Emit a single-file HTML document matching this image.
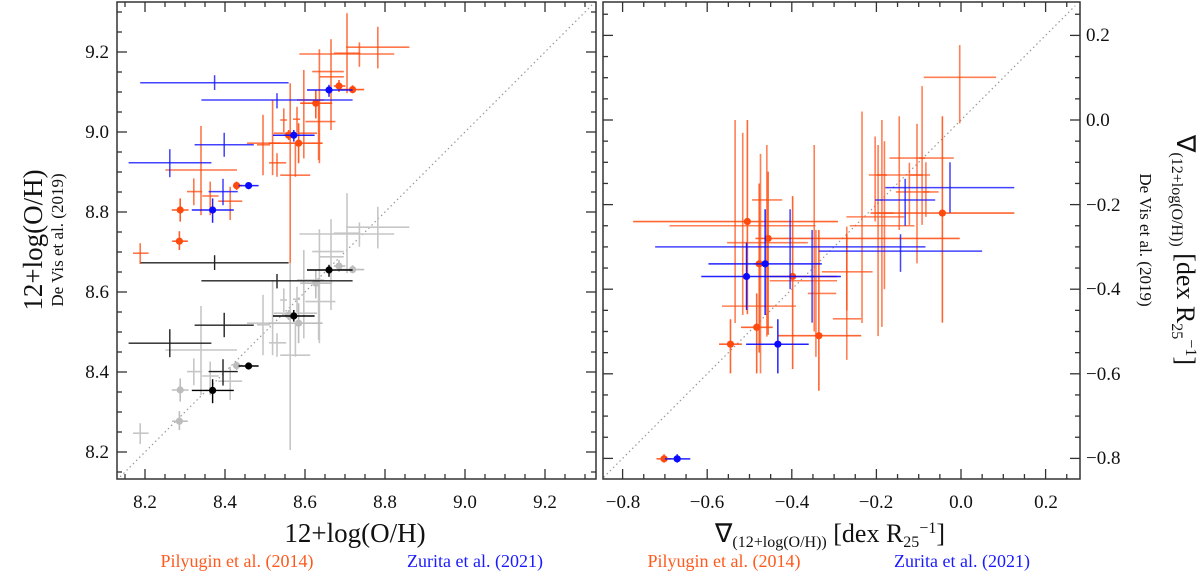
<!DOCTYPE html>
<html><head><meta charset="utf-8">
<style>
html,body{margin:0;padding:0;background:#fff;}
svg{display:block;}
text{font-family:"Liberation Serif",serif;}
</style></head>
<body>
<svg id="chart" width="1200" height="573" viewBox="0 0 1200 573" xmlns="http://www.w3.org/2000/svg"></svg>
<script>
// ---------- data: [x, y, xlo, xhi, ylo, yhi] ----------
const leftGrayCross = [
[8.782,8.762,8.703,8.861,8.709,8.813],[8.736,8.745,8.586,8.823,8.713,8.774],[8.705,8.747,8.672,8.738,8.647,8.847],
[8.636,8.701,8.618,8.697,8.472,8.757],[8.665,8.688,8.637,8.697,8.555,8.782],[8.597,8.63,8.58,8.647,8.484,8.705],
[8.634,8.576,8.601,8.676,8.48,8.63],[8.519,8.522,8.455,8.538,8.442,8.63],[8.495,8.518,8.48,8.513,8.442,8.593],
[8.547,8.58,8.538,8.555,8.55,8.609],[8.58,8.582,8.57,8.588,8.55,8.613],[8.53,8.473,8.51,8.553,8.438,8.497],
[8.563,8.547,8.522,8.63,8.205,8.672],[8.576,8.442,8.538,8.613,8.438,8.522],[8.34,8.455,8.251,8.43,8.342,8.565],
[8.322,8.401,8.305,8.343,8.367,8.434],[8.363,8.39,8.343,8.384,8.342,8.426],[8.413,8.377,8.383,8.443,8.33,8.413],
[8.188,8.247,8.17,8.209,8.22,8.272]];
const leftGrayDot = [
[8.288,8.355,8.267,8.309,8.326,8.384],[8.286,8.277,8.268,8.307,8.255,8.302],[8.429,8.416,8.42,8.443,8.405,8.426],
[8.627,8.622,8.588,8.668,8.584,8.655],[8.584,8.522,8.509,8.644,8.472,8.572],[8.685,8.665,8.672,8.701,8.65,8.68],
[8.719,8.656,8.688,8.748,8.647,8.667],[8.559,8.542,8.547,8.572,8.53,8.555]];
const leftBlackCross = [
[8.374,8.673,8.188,8.559,8.655,8.692],[8.53,8.628,8.341,8.719,8.609,8.645],[8.398,8.517,8.324,8.472,8.487,8.548],
[8.262,8.472,8.159,8.366,8.437,8.507],[8.395,8.401,8.359,8.432,8.366,8.432]];
const leftBlackDot = [
[8.66,8.655,8.605,8.719,8.638,8.668],[8.572,8.54,8.52,8.624,8.526,8.555],[8.459,8.415,8.434,8.484,8.407,8.423],
[8.369,8.354,8.317,8.422,8.322,8.382]];
const leftOrangeCross = [
[8.782,9.212,8.703,8.861,9.159,9.263],[8.736,9.195,8.586,8.823,9.163,9.224],[8.705,9.197,8.672,8.738,9.097,9.297],
[8.636,9.151,8.618,8.697,8.922,9.207],[8.665,9.138,8.637,8.697,9.005,9.232],[8.597,9.08,8.58,8.647,8.934,9.155],
[8.634,9.026,8.601,8.676,8.93,9.08],[8.519,8.972,8.455,8.538,8.892,9.08],[8.495,8.968,8.48,8.513,8.892,9.043],
[8.547,9.03,8.538,8.555,9.0,9.059],[8.58,9.032,8.57,8.588,9.0,9.063],[8.53,8.923,8.51,8.553,8.888,8.947],
[8.563,8.997,8.522,8.63,8.672,9.122],[8.576,8.892,8.538,8.613,8.888,8.972],[8.34,8.905,8.251,8.43,8.792,9.015],
[8.322,8.851,8.305,8.343,8.817,8.884],[8.363,8.84,8.343,8.384,8.792,8.876],[8.413,8.827,8.383,8.443,8.78,8.863],
[8.188,8.697,8.17,8.209,8.67,8.722]];
const leftOrangeDot = [
[8.288,8.805,8.267,8.309,8.776,8.834],[8.286,8.727,8.268,8.307,8.705,8.752],[8.429,8.866,8.42,8.443,8.855,8.876],
[8.627,9.072,8.588,8.668,9.034,9.105],[8.584,8.972,8.509,8.644,8.922,9.022],[8.685,9.115,8.672,8.701,9.1,9.13],
[8.719,9.106,8.688,8.748,9.097,9.117],[8.559,8.992,8.547,8.572,8.98,9.005]];
const leftBlueCross = [
[8.374,9.123,8.188,8.559,9.105,9.142],[8.53,9.08,8.341,8.719,9.059,9.097],[8.398,8.968,8.324,8.472,8.938,8.998],
[8.262,8.923,8.159,8.366,8.887,8.957],[8.395,8.851,8.359,8.432,8.817,8.883]];
const leftBlueDot = [
[8.66,9.105,8.605,8.719,9.088,9.118],[8.572,8.992,8.52,8.624,8.976,9.005],[8.459,8.866,8.434,8.484,8.857,8.873],
[8.369,8.805,8.317,8.422,8.773,8.834]];
const rightOrangeCross = [
[-0.003,0.101,-0.088,0.083,-0.008,0.177],[-0.534,-0.44,-0.565,-0.39,-0.48,0.0],[-0.516,-0.25,-0.689,-0.344,-0.461,-0.03],
[-0.474,-0.29,-0.553,-0.362,-0.599,-0.08],[-0.459,-0.189,-0.494,-0.423,-0.512,-0.059],[-0.347,-0.41,-0.362,-0.295,-0.5,-0.059],
[-0.343,-0.38,-0.452,-0.293,-0.56,-0.26],[-0.27,-0.47,-0.303,-0.236,-0.567,-0.252],[-0.27,-0.359,-0.329,-0.209,-0.45,-0.27],
[-0.234,-0.229,-0.271,-0.134,-0.48,0.02],[-0.203,-0.13,-0.218,-0.073,-0.24,-0.039],[-0.196,-0.25,-0.263,-0.11,-0.511,-0.059],
[-0.187,-0.13,-0.2,-0.175,-0.489,0.0],[-0.181,-0.22,-0.2,-0.16,-0.4,-0.05],[-0.146,-0.09,-0.169,-0.017,-0.26,0.009],
[-0.122,-0.17,-0.154,-0.053,-0.248,-0.101],[-0.104,-0.13,-0.12,-0.09,-0.339,-0.009],[-0.092,-0.09,-0.1,-0.085,-0.248,0.08],
[-0.083,-0.17,-0.09,-0.075,-0.229,-0.1]];
const rightOrangeDot = [
[-0.044,-0.22,-0.214,0.126,-0.479,0.009],[-0.505,-0.24,-0.775,-0.291,-0.459,0.0],[-0.456,-0.28,-0.486,-0.003,-0.508,-0.122],
[-0.477,-0.34,-0.49,-0.46,-0.55,-0.15],[-0.398,-0.37,-0.452,-0.293,-0.589,-0.18],[-0.483,-0.49,-0.52,-0.445,-0.599,-0.41],
[-0.545,-0.53,-0.572,-0.518,-0.599,-0.471],[-0.336,-0.51,-0.433,-0.236,-0.64,-0.26],[-0.702,-0.801,-0.72,-0.685,-0.81,-0.79]];
const rightBlueCross = [
[-0.404,-0.3,-0.723,-0.084,-0.4,-0.211],[-0.143,-0.31,-0.336,0.05,-0.359,-0.27],[-0.352,-0.37,-0.357,-0.347,-0.479,-0.26],
[-0.132,-0.189,-0.203,-0.061,-0.25,-0.139],[-0.026,-0.16,-0.179,0.126,-0.219,-0.1]];
const rightBlueDot = [
[-0.463,-0.34,-0.597,-0.329,-0.461,-0.211],[-0.507,-0.37,-0.614,-0.284,-0.449,-0.29],[-0.433,-0.53,-0.508,-0.36,-0.599,-0.471],
[-0.671,-0.801,-0.7,-0.64,-0.81,-0.79]];

const NS="http://www.w3.org/2000/svg";
const svg=document.getElementById('chart');
function el(tag,attrs,parent){const e=document.createElementNS(NS,tag);for(const k in attrs)e.setAttribute(k,attrs[k]);(parent||svg).appendChild(e);return e;}
const L={x0:117,x1:596,y0:2,y1:479, lx:(v)=>145+(v-8.2)*400, ly:(v)=>452-(v-8.2)*400, vmin:8.13, vmax:9.33};
const R={x0:603,x1:1080,y0:2,y1:479, lx:(v)=>961+v*423, ly:(v)=>120-v*423, vmin:-0.86, vmax:0.27};

function clipFor(P,id){const cp=el('clipPath',{id:id});el('rect',{x:P.x0,y:P.y0,width:P.x1-P.x0,height:P.y1-P.y0},cp);return 'url(#'+id+')';}
const cl=clipFor(L,'cl'), cr=clipFor(R,'cr');

function drawSeries(P,data,color,dot,name,clip,w,op){
  const g=el('g',{'clip-path':clip});
  
  
  data.forEach(d=>{
    const cx=P.lx(d[0]), cy=P.ly(d[1]);
    const h=el('line',{x1:P.lx(d[2]),x2:P.lx(d[3]),y1:cy,y2:cy,stroke:color,'stroke-width':w,'stroke-opacity':op},g);
    
    
    const v=el('line',{x1:cx,x2:cx,y1:P.ly(d[4]),y2:P.ly(d[5]),stroke:color,'stroke-width':w,'stroke-opacity':op},g);
    
    
    if(dot){const c=el('circle',{cx:cx,cy:cy,r:3.6,fill:color},g);
      
      }
  });
}
function diag(P,clip){const l=el('line',{x1:P.lx(P.vmin),y1:P.ly(P.vmin),x2:P.lx(P.vmax),y2:P.ly(P.vmax),stroke:'#999','stroke-width':1.2,'stroke-dasharray':'1.5,3','clip-path':clip});
  
  }

diag(L,cl); diag(R,cr);
drawSeries(L,leftGrayCross,'#c6c6c6',false,'devis-recal-cross',cl,1.6,1);
drawSeries(L,leftGrayDot,'#bdbdbd',true,'devis-recal-dot',cl,1.6,1);
drawSeries(L,leftBlackCross,'#222',false,'zurita-recal-cross',cl,1.4,1);
drawSeries(L,leftBlackDot,'#000',true,'zurita-recal-dot',cl,1.4,1);
drawSeries(L,leftOrangeCross,'#ff4a0e',false,'pilyugin-cross',cl,1.6,0.75);
drawSeries(L,leftOrangeDot,'#ff4a0e',true,'pilyugin-dot',cl,1.6,0.9);
drawSeries(L,leftBlueCross,'#1414ff',false,'zurita-cross',cl,1.5,0.8);
drawSeries(L,leftBlueDot,'#0a0aff',true,'zurita-dot',cl,1.5,0.9);
drawSeries(R,rightOrangeCross,'#ff4a0e',false,'pilyugin-gradient-cross',cr,1.6,0.7);
drawSeries(R,rightOrangeDot,'#ff4a0e',true,'pilyugin-gradient-dot',cr,1.6,0.85);
drawSeries(R,rightBlueCross,'#1414ff',false,'zurita-gradient-cross',cr,1.5,0.8);
drawSeries(R,rightBlueDot,'#0a0aff',true,'zurita-gradient-dot',cr,1.5,0.9);

function frame(P,name){
  const g=el('g',{});
  
  
  el('rect',{x:P.x0,y:P.y0,width:P.x1-P.x0,height:P.y1-P.y0,fill:'none',stroke:'#333','stroke-width':1.5},g);
  const start=Math.ceil(P.vmin/0.05-1e-6), end=Math.floor(P.vmax/0.05+1e-6);
  for(let i=start;i<=end;i++){
    const v=i*0.05, major=Math.abs(v/0.2-Math.round(v/0.2))<1e-6, len=major?10:5;
    const x=P.lx(v), y=P.ly(v);
    if(x>P.x0+1&&x<P.x1-1){el('line',{x1:x,x2:x,y1:P.y1,y2:P.y1-len,stroke:'#333','stroke-width':1.3},g);el('line',{x1:x,x2:x,y1:P.y0,y2:P.y0+len,stroke:'#333','stroke-width':1.3},g);}
    if(y>P.y0+1&&y<P.y1-1){el('line',{x1:P.x0,x2:P.x0+len,y1:y,y2:y,stroke:'#333','stroke-width':1.3},g);el('line',{x1:P.x1,x2:P.x1-len,y1:y,y2:y,stroke:'#333','stroke-width':1.3},g);}
  }
}
frame(L,'left-panel-axes');
frame(R,'right-panel-axes');
</script>
<svg style="position:absolute;left:0;top:0" width="1200" height="573">
  <g font-family="Liberation Serif, serif" font-size="19" fill="#111" text-anchor="middle">
    <text x="145" y="508">8.2</text><text x="225" y="508">8.4</text><text x="305" y="508">8.6</text>
    <text x="385" y="508">8.8</text><text x="465" y="508">9.0</text><text x="545" y="508">9.2</text>
    <text x="623" y="508">−0.8</text><text x="707" y="508">−0.6</text><text x="792" y="508">−0.4</text>
    <text x="876" y="508">−0.2</text><text x="961" y="508">0.0</text><text x="1046" y="508">0.2</text>
  </g>
  <g font-family="Liberation Serif, serif" font-size="19" fill="#111" text-anchor="end">
    <text x="109" y="458">8.2</text><text x="109" y="378">8.4</text><text x="109" y="298">8.6</text>
    <text x="109" y="218">8.8</text><text x="109" y="138">9.0</text><text x="109" y="58">9.2</text>
  </g>
  <g font-family="Liberation Serif, serif" font-size="19" fill="#111" text-anchor="start">
    <text x="1086" y="464">−0.8</text><text x="1086" y="380">−0.6</text><text x="1086" y="295">−0.4</text>
    <text x="1086" y="211">−0.2</text><text x="1086" y="126">0.0</text><text x="1086" y="41">0.2</text>
  </g>
  <g font-family="Liberation Serif, serif" fill="#111">
    <text transform="translate(42,240) rotate(-90)" text-anchor="middle" font-size="27">12+log(O/H)</text>
    <text transform="translate(63,240) rotate(-90)" text-anchor="middle" font-size="17">De Vis et al. (2019)</text>
    <text x="355" y="542" text-anchor="middle" font-size="27">12+log(O/H)</text>
    <text x="830" y="542" text-anchor="middle" font-size="26">∇<tspan font-size="16" dy="5">(12+log(O/H))</tspan><tspan dy="-5"> [dex R</tspan><tspan font-size="16" dy="5">25</tspan><tspan font-size="16" dy="-14">−1</tspan><tspan dy="9">]</tspan></text>
    <text transform="translate(1177,250) rotate(90)" text-anchor="middle" font-size="26">∇<tspan font-size="16" dy="5">(12+log(O/H))</tspan><tspan dy="-5"> [dex R</tspan><tspan font-size="16" dy="5">25</tspan><tspan font-size="16" dy="-14">−1</tspan><tspan dy="9">]</tspan></text>
    <text transform="translate(1140,240) rotate(90)" text-anchor="middle" font-size="17">De Vis et al. (2019)</text>
    <text x="237" y="567" text-anchor="middle" font-size="18" fill="#ff5a1e">Pilyugin et al. (2014)</text>
    <text x="475" y="567" text-anchor="middle" font-size="18" fill="#1a1aff">Zurita et al. (2021)</text>
    <text x="724" y="567" text-anchor="middle" font-size="18" fill="#ff5a1e">Pilyugin et al. (2014)</text>
    <text x="962" y="567" text-anchor="middle" font-size="18" fill="#1a1aff">Zurita et al. (2021)</text>
  </g>
</svg>
</body></html>
